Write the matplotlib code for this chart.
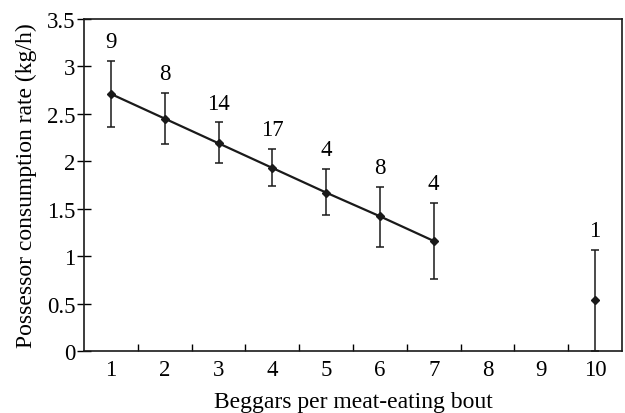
import numpy as np
import matplotlib.pyplot as plt

# Beggars per bout, mean consumption rate, error bars, sample sizes
beggars = [1, 2, 3, 4, 5, 6, 7, 10]
rate = [2.71, 2.45, 2.19, 1.93, 1.67, 1.42, 1.16, 0.54]
err_hi = [3.06, 2.72, 2.41, 2.13, 1.92, 1.73, 1.56, 1.07]
err_lo = [2.36, 2.18, 1.98, 1.74, 1.43, 1.10, 0.76, 0.0]
n_obs = ['9', '8', '14', '17', '4', '8', '4', '1']
x_labels = ['1', '2', '3', '4', '5', '6', '7', '8', '9', '10']

plt.rcParams['font.family'] = ['Liberation Serif', 'DejaVu Serif']

fig = plt.figure(figsize=(6.25, 4.14), dpi=100)
ax = fig.add_axes([84 / 625, 1 - 352 / 414, (622 - 84) / 625, (352 - 20) / 414])

x = np.array(beggars)
y = np.array(rate)
yerr = [y - np.array(err_lo), np.array(err_hi) - y]

# line only through 1..7
ax.plot(x[:7], y[:7], color='#1a1a1a', lw=1.6)
ax.errorbar(x, y, yerr=yerr, fmt='D', ms=4, color='#1a1a1a', ecolor='#1a1a1a',
            elinewidth=1.1, capsize=3, capthick=1.1, clip_on=False)

for xi, top, lab in zip(x, err_hi, n_obs):
    ax.text(xi, top + 0.09, lab, ha='center', va='bottom', fontsize=16.5)

ax.set_xlim(0.5, 10.5)
ax.set_ylim(0, 3.5)

# tick marks between categories, labels centred
ax.set_xticks(np.arange(1.5, 10, 1))
ax.set_xticklabels([])
ax.set_xticks(np.arange(1, 11), minor=True)
ax.set_xticklabels(x_labels, minor=True, fontsize=16.5)
ax.tick_params(axis='x', which='major', direction='in', length=5, width=1)
ax.tick_params(axis='x', which='minor', length=0, pad=6)

ax.set_yticks([0, 0.5, 1, 1.5, 2, 2.5, 3, 3.5])
ax.set_yticklabels(['0', '0.5', '1', '1.5', '2', '2.5', '3', '3.5'], fontsize=16.5)
ax.tick_params(axis='y', direction='inout', length=10, width=1, pad=1)

for s in ax.spines.values():
    s.set_linewidth(1.2)
    s.set_color('#1a1a1a')

ax.set_xlabel('Beggars per meat-eating bout', fontsize=17, labelpad=8)
ax.set_ylabel('Possessor consumption rate (kg/h)', fontsize=17, labelpad=7)

fig.savefig('out.png', dpi=100)
